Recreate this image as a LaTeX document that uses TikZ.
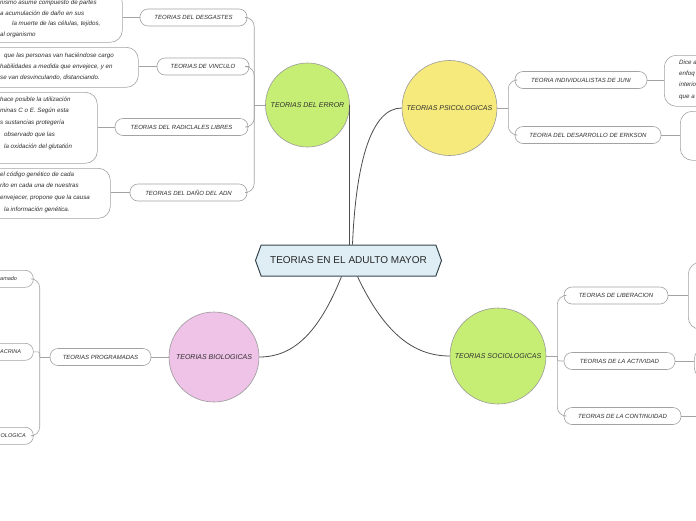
\documentclass[tikz,border=0pt]{standalone}
\usepackage{fontspec}
\setmainfont{Liberation Sans}
\usetikzlibrary{shapes.symbols}
\definecolor{lgray}{HTML}{A3A3A3}
\definecolor{dgray}{HTML}{4D4D4D}
\definecolor{cgray}{HTML}{9A9A9A}
\definecolor{tgray}{HTML}{2E2E2E}
\definecolor{cgreen}{HTML}{C6EE74}
\definecolor{cyellow}{HTML}{F7EA7C}
\definecolor{cpink}{HTML}{EFC2E7}
\definecolor{cblue}{HTML}{DEEEF4}
\definecolor{cborder}{HTML}{37474F}
\begin{document}
\begin{tikzpicture}[x=1pt,y=-1pt,
  branch/.style={draw=lgray, line width=0.6pt, fill=white, rounded corners=8pt, minimum height=17pt, inner sep=0pt, text=tgray, font=\fontsize{6}{7}\selectfont\itshape},
  topic/.style={circle, draw=cgray, line width=0.6pt, inner sep=0pt, text=tgray, font=\fontsize{7}{8}\selectfont\itshape},
  descbox/.style={draw=lgray, line width=0.6pt, fill=white, rounded corners=12pt, inner sep=0pt, anchor=north west},
  pillbox/.style={draw=lgray, line width=0.6pt, fill=white, rounded corners=8pt, inner sep=0pt, anchor=north west, minimum height=17pt, minimum width=93pt},
  desctext/.style={anchor=north west, inner sep=0pt, align=left, text=tgray},
  link/.style={draw=lgray, line width=0.6pt},
  mainlink/.style={draw=dgray, line width=0.8pt},
]
\useasboundingbox (0,0) rectangle (696,520);
\clip (0,0) rectangle (696,520);
\fill[white] (0,0) rectangle (696,520);

% central node
\node[signal, signal to=west and east, signal pointer angle=140, draw=cborder, fill=cblue, line width=1pt,
      minimum width=186pt, minimum height=31pt, inner sep=0pt, text=black!85,
      font=\fontsize{10}{12}\selectfont] (cen) at (348.5,260.5) {TEORIAS EN EL ADULTO MAYOR};

% topic circles
\node[topic, fill=cgreen, minimum size=84pt] (err) at (307.5,105) {TEORIAS DEL ERROR};
\node[topic, fill=cyellow, minimum size=95pt] (psi) at (449.5,108) {TEORIAS PSICOLOGICAS};
\node[topic, fill=cpink, minimum size=90pt] (bio) at (214,357) {TEORIAS BIOLOGICAS};
\node[topic, fill=cgreen, minimum size=96pt] (soc) at (498,356) {TEORIAS SOCIOLOGICAS};

% main connectors
\draw[mainlink] (err.east) -- (err.east |- cen.north);
\draw[mainlink] ([xshift=4pt]cen.north) .. controls (356,160) and (372,108) .. (psi.west);
\draw[mainlink] ([xshift=-7pt]cen.south) .. controls (318,335) and (292,357) .. (bio.east);
\draw[mainlink] ([xshift=9pt]cen.south) .. controls (385,335) and (415,356) .. (soc.west);

% ERROR branches
\node[branch, minimum width=107pt] (b1) at (193.5,17.5) {TEORIAS DEL DESGASTES};
\node[branch, minimum width=92pt] (b2) at (203,66.5) {TEORIAS DE VINCULO};
\node[branch, minimum width=133pt] (b3) at (181.5,127) {TEORIAS DEL RADICLALES LIBRES};
\node[branch, minimum width=117pt] (b4) at (188.5,192.5) {TEORIAS DEL DAÑO DEL ADN};
\coordinate (eb) at ([xshift=-11pt]err.west);
\draw[link] (err.west) -- (eb);
\foreach \b in {b1,b2,b3,b4} \draw[link, rounded corners=9pt] (\b.east) -| (eb);

% ERROR descriptions
\node[descbox, minimum width=182pt, minimum height=52pt] (d1) at (-60,-10) {};
\node[descbox, minimum width=198pt, minimum height=40pt] (d2) at (-60,47) {};
\node[descbox, minimum width=157pt, minimum height=71pt] (d3) at (-60,92) {};
\node[descbox, minimum width=170pt, minimum height=50pt] (d4) at (-60,168) {};
\draw[link] (b1.west) -- (b1.west -| d1.east);
\draw[link] (b2.west) -- (b2.west -| d2.east);
\draw[link] (b3.west) -- (b3.west -| d3.east);
\draw[link] (b4.west) -- (b4.west -| d4.east);
\node[desctext, font=\fontsize{6.2}{10.5}\selectfont\itshape] (t1) at (0,0.3)
  {nismo asume compuesto de partes\\a acumulación de daño en sus\\\hspace*{12pt}la muerte de las células, tejidos,\\al organismo};
\node[desctext, font=\fontsize{6.2}{11}\selectfont\itshape] (t2) at (0,52.5)
  {\hspace*{4pt}que las personas van haciéndose cargo\\habilidades a medida que envejece, y en\\se van desvinculando, distanciando.};
\node[desctext, font=\fontsize{6.2}{11.7}\selectfont\itshape] (t3) at (0,96.5)
  {hace posible la utilización\\minas C o E. Según esta\\s sustancias protegería\\\hspace*{4pt}observado que las\\\hspace*{4pt}la oxidación del glutatión};
\node[desctext, font=\fontsize{6.2}{11.7}\selectfont\itshape] (t4) at (0,171.5)
  {el código genético de cada\\rito en cada una de nuestras\\envejecer, propone que la causa\\\hspace*{4pt}la información genética.};

% PSICOLOGICAS branches
\node[branch, minimum width=132pt] (p1) at (581,80) {TEORIA INDIVIDUALISTAS DE JUNI};
\node[branch, minimum width=146pt] (p2) at (588,135) {TEORIA DEL DESARROLLO DE ERIKSON};
\coordinate (pb) at ([xshift=11pt]psi.east);
\draw[link] (psi.east) -- (pb);
\foreach \b in {p1,p2} \draw[link, rounded corners=9pt] (pb) |- (\b.west);
\node[descbox, minimum width=96pt, minimum height=51pt] (da) at (664,55) {};
\node[descbox, minimum width=80pt, minimum height=49pt] (db) at (680,111) {};
\draw[link] (p1.east) -- (p1.east -| da.west);
\draw[link] (p2.east) -- (p2.east -| db.west);
\node[desctext, font=\fontsize{6.2}{11.3}\selectfont\itshape] (ta) at (679,59.5)
  {Dice a\\enfoq\\interio\\que a};

% SOCIOLOGICAS branches
\node[branch, minimum width=104pt] (s1) at (616,295.5) {TEORIAS DE LIBERACION};
\node[branch, minimum width=111pt] (s2) at (619.5,361) {TEORIAS DE LA ACTIVIDAD};
\node[branch, minimum width=117pt] (s3) at (622.5,416) {TEORIAS DE LA CONTINUIDAD};
\coordinate (sb) at ([xshift=11pt]soc.east);
\draw[link] (soc.east) -- (sb);
\draw[link, rounded corners=9pt] (sb) |- (s1.west);
\draw[link, rounded corners=2pt] (sb) |- (s2.west);
\draw[link, rounded corners=9pt] (sb) |- (s3.west);
\node[descbox, minimum width=72pt, minimum height=67pt] (dc) at (688,262) {};
\node[descbox, minimum width=66pt, minimum height=32pt] (dd) at (694,347) {};
\node[descbox, minimum width=60pt, minimum height=36pt] (de) at (700,398) {};
\draw[link] (s1.east) -- (s1.east -| dc.west);
\draw[link] (s2.east) -- (s2.east -| dd.west);
\draw[link] (s3.east) -- (s3.east -| de.west);

% BIOLOGICAS branches
\node[branch, minimum width=101pt] (prog) at (100.5,357) {TEORIAS PROGRAMADAS};
\draw[link] (bio.west) -- (prog.east);
\coordinate (bb) at ([xshift=-10pt]prog.west);
\draw[link] (prog.west) -- (bb);
\node[pillbox] (l1) at (-60,270) {};
\node[pillbox] (l2) at (-60,343) {};
\node[pillbox] (l3) at (-60,427) {};
\draw[link, rounded corners=9pt] (bb) |- (l1.east);
\draw[link, rounded corners=2pt] (bb) |- (l2.east);
\draw[link, rounded corners=9pt] (bb) |- (l3.east);
\node[desctext, anchor=west, font=\fontsize{5.5}{6}\selectfont\itshape] (u1) at (0,278.5) {amado};
\node[desctext, anchor=west, font=\fontsize{5.5}{6}\selectfont\itshape] (u2) at (0,351.5) {ACRINA};
\node[desctext, anchor=west, font=\fontsize{5.5}{6}\selectfont\itshape] (u3) at (0.5,435.5) {OLOGICA};
\end{tikzpicture}
\end{document}
